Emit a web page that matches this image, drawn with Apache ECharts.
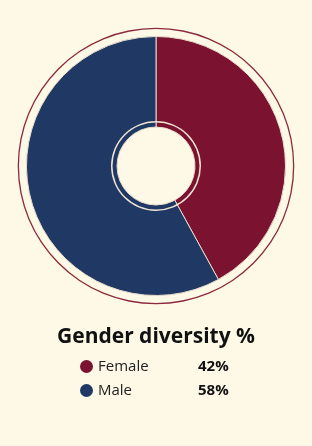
<!DOCTYPE html>
<html>
<head>
<meta charset="utf-8">
<script src="https://cdn.jsdelivr.net/npm/echarts@6/dist/echarts.min.js"></script>
<style>
html,body{margin:0;padding:0;background:#FEF9E7;}
#c{width:312px;height:446px;}
</style>
</head>
<body>
<div id="c"></div>
<script>
const categories = ['Female', 'Male'];
const values = [42, 58];
const colors = ['#7A1230', '#1F3864'];
const titleText = 'Gender diversity %';

const chart = echarts.init(document.getElementById('c'), null, {renderer: 'canvas'});
const bg = '#FEF9E7';
const center = [156, 166];
const valueMap = {};
categories.forEach((c, i) => valueMap[c] = values[i]);

chart.setOption({
  backgroundColor: bg,
  animation: false,
  title: {
    text: titleText,
    left: 'center',
    top: 322,
    textStyle: {fontFamily: 'Open Sans', fontWeight: 'bold', fontSize: 21, color: '#111'}
  },
  legend: {
    orient: 'vertical',
    left: 75,
    top: 354,
    itemWidth: 13,
    itemHeight: 13,
    itemGap: 9,
    icon: 'circle',
    itemStyle: {borderWidth: 0},
    data: categories,
    formatter: function (name) { return '{n|' + name + '}{v|' + valueMap[name] + '%}'; },
    textStyle: {
      rich: {
        n: {fontFamily: 'Open Sans', fontSize: 15, color: '#222', width: 100},
        v: {fontFamily: 'Open Sans', fontSize: 15, fontWeight: 'bold', color: '#111'}
      }
    }
  },
  series: [
    {
      type: 'pie',
      center: center,
      radius: [39, 129.5],
      startAngle: 90,
      clockwise: true,
      silent: true,
      label: {show: false},
      labelLine: {show: false},
      itemStyle: {borderColor: '#E8DCCB', borderWidth: 1},
      data: categories.map((c, i) => ({name: c, value: values[i], itemStyle: {color: colors[i]}}))
    },
    {
      type: 'pie',
      center: center,
      radius: [43.5, 45],
      silent: true,
      label: {show: false},
      labelLine: {show: false},
      itemStyle: {color: '#EFE4D2', borderWidth: 0},
      data: [{name: 'ring', value: 1}],
      legendHoverLink: false
    },
    {
      type: 'pie',
      center: center,
      radius: [137, 138.3],
      silent: true,
      label: {show: false},
      labelLine: {show: false},
      itemStyle: {color: '#8B2A3E', borderWidth: 0},
      data: [{name: 'outer', value: 1}],
      legendHoverLink: false
    }
  ]
});
</script>
</body>
</html>
